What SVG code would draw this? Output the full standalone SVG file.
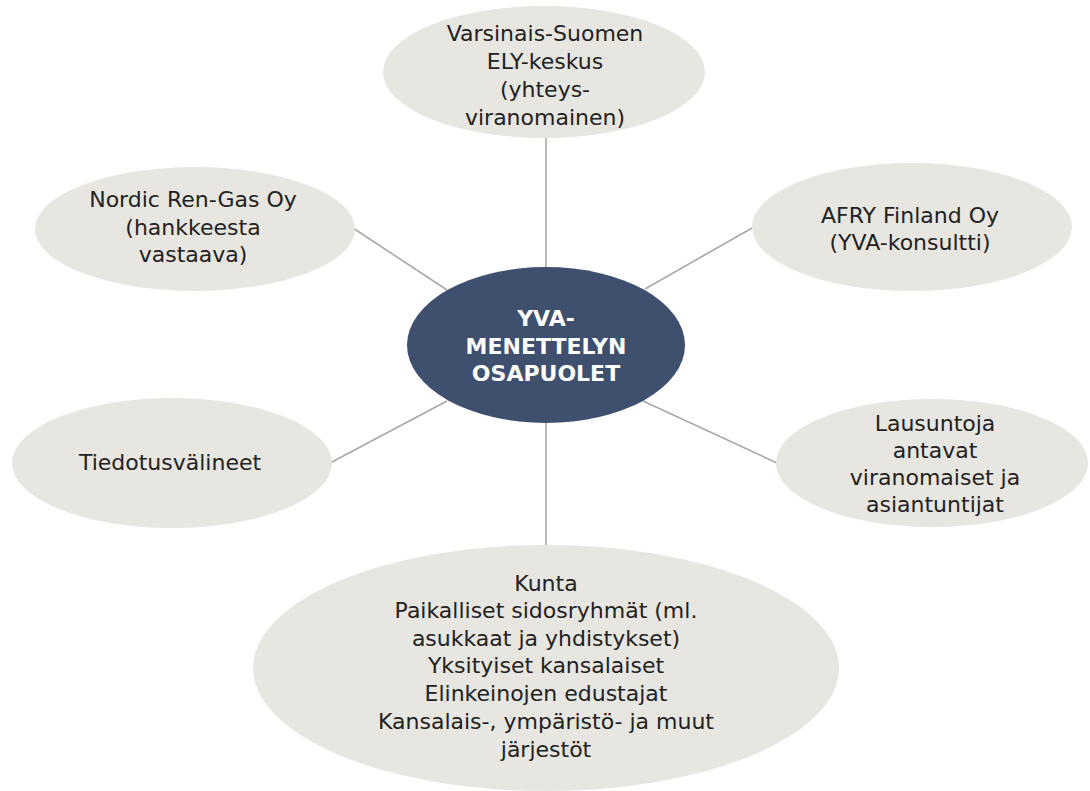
<svg xmlns="http://www.w3.org/2000/svg" width="1090" height="791" viewBox="0 0 1090 791">
<style>
.n{fill:#e8e6e0;}
.c{fill:#3f4f6e;}
.t{font-family:"DejaVu Sans","Liberation Sans",sans-serif;font-size:22px;fill:#222;text-anchor:middle;}
.b{font-family:"DejaVu Sans","Liberation Sans",sans-serif;font-size:22px;font-weight:bold;fill:#fff;text-anchor:middle;}
.l{stroke:#a8a8a8;stroke-width:1.6;fill:none;}
</style>
<rect width="1090" height="791" fill="#fff"/>
<g id="connectors">
<line class="l" x1="546" y1="138" x2="546" y2="268"/>
<line class="l" x1="546" y1="422" x2="546" y2="546"/>
<line class="l" x1="353" y1="228" x2="447" y2="290"/>
<line class="l" x1="752" y1="228" x2="645" y2="289"/>
<line class="l" x1="447" y1="401" x2="330" y2="463"/>
<line class="l" x1="643" y1="401" x2="777" y2="463"/>
</g>
<g id="node-ely">
<ellipse class="n" cx="544" cy="72" rx="161" ry="66"/>
<text class="t" x="545" y="41">Varsinais-Suomen</text>
<text class="t" x="545" y="69">ELY-keskus</text>
<text class="t" x="545" y="97">(yhteys-</text>
<text class="t" x="545" y="125">viranomainen)</text>
</g>
<g id="node-nordic">
<ellipse class="n" cx="195" cy="229" rx="160" ry="62"/>
<text class="t" x="193" y="207">Nordic Ren-Gas Oy</text>
<text class="t" x="193" y="235">(hankkeesta</text>
<text class="t" x="193" y="262">vastaava)</text>
</g>
<g id="node-afry">
<ellipse class="n" cx="912" cy="227" rx="160" ry="64"/>
<text class="t" x="910" y="223">AFRY Finland Oy</text>
<text class="t" x="910" y="250">(YVA-konsultti)</text>
</g>
<g id="node-center">
<ellipse class="c" cx="546" cy="345" rx="139" ry="78"/>
<text class="b" x="546" y="326">YVA-</text>
<text class="b" x="546" y="354">MENETTELYN</text>
<text class="b" x="546" y="381">OSAPUOLET</text>
</g>
<g id="node-media">
<ellipse class="n" cx="172" cy="463" rx="160" ry="65"/>
<text class="t" x="170" y="470">Tiedotusvälineet</text>
</g>
<g id="node-lausunto">
<ellipse class="n" cx="932" cy="463" rx="156" ry="64"/>
<text class="t" x="935" y="431">Lausuntoja</text>
<text class="t" x="935" y="458">antavat</text>
<text class="t" x="935" y="485">viranomaiset ja</text>
<text class="t" x="935" y="512">asiantuntijat</text>
</g>
<g id="node-kunta">
<ellipse class="n" cx="546" cy="668" rx="293" ry="123"/>
<text class="t" x="546" y="591">Kunta</text>
<text class="t" x="546" y="618">Paikalliset sidosryhmät (ml.</text>
<text class="t" x="546" y="646">asukkaat ja yhdistykset)</text>
<text class="t" x="546" y="673">Yksityiset kansalaiset</text>
<text class="t" x="546" y="701">Elinkeinojen edustajat</text>
<text class="t" x="546" y="729">Kansalais-, ympäristö- ja muut</text>
<text class="t" x="546" y="757">järjestöt</text>
</g>
</svg>
